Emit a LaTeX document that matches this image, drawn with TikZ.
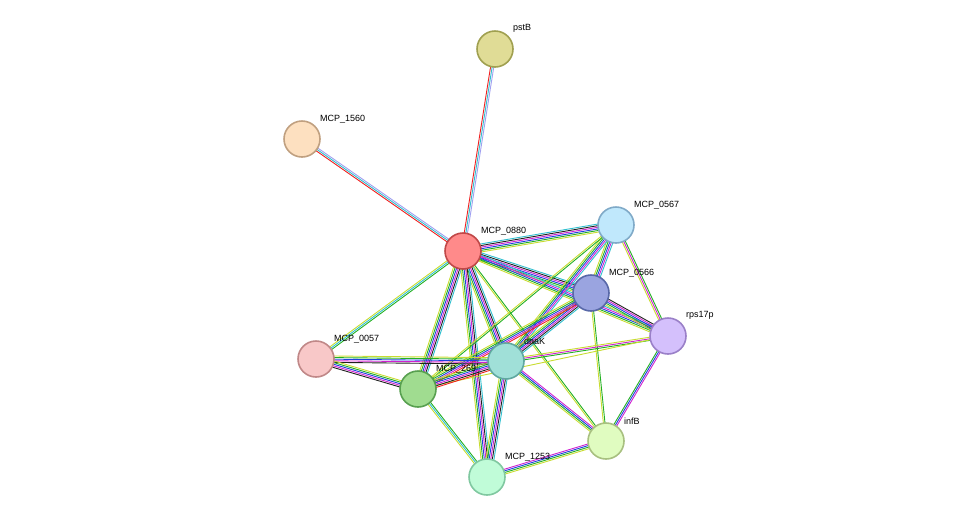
\documentclass[tikz,border=0pt]{standalone}
\usepackage{fontspec}
\setmainfont{Liberation Sans}
\usetikzlibrary{calc}
\definecolor{cNb}{HTML}{22B022}
\definecolor{cFu}{HTML}{F02020}
\definecolor{cCo}{HTML}{2040E0}
\definecolor{cEx}{HTML}{D020D0}
\definecolor{cDb}{HTML}{30C0D0}
\definecolor{cTm}{HTML}{C8DC30}
\definecolor{cHo}{HTML}{A0A0F0}
\definecolor{cCx}{HTML}{202020}
\newcommand{\link}[4]{%
  \foreach \c [count=\i] in {#4} {
    \pgfmathsetmacro{\off}{(\i-(#3+1)/2)*1.6}
    \draw[\c, line width=0.9pt]
      ($(#1)!\off pt!90:(#2)$) -- ($(#2)!\off pt!-90:(#1)$);
  }}
\tikzset{
  prot/.style args={#1/#2}{circle, minimum size=36pt, inner sep=0pt,
    fill=#1, draw=#2, line width=1.6pt},
  lbl/.style={font=\fontsize{9}{10}\selectfont, anchor=south west, inner sep=1pt}
}
\definecolor{fA}{HTML}{E0DC96}\definecolor{dA}{HTML}{A0A050}
\definecolor{fB}{HTML}{FDE0C0}\definecolor{dB}{HTML}{C0A080}
\definecolor{fC}{HTML}{FF8A8A}\definecolor{dC}{HTML}{C04848}
\definecolor{fD}{HTML}{C0E8FC}\definecolor{dD}{HTML}{80AAC8}
\definecolor{fE}{HTML}{9AA4E0}\definecolor{dE}{HTML}{5868A8}
\definecolor{fF}{HTML}{D4C0FC}\definecolor{dF}{HTML}{9A80C8}
\definecolor{fG}{HTML}{F8C8C8}\definecolor{dG}{HTML}{C08888}
\definecolor{fH}{HTML}{A0E0D8}\definecolor{dH}{HTML}{60A8A0}
\definecolor{fI}{HTML}{A0DC90}\definecolor{dI}{HTML}{58A050}
\definecolor{fJ}{HTML}{E0FCC0}\definecolor{dJ}{HTML}{A8C080}
\definecolor{fK}{HTML}{C0FCD8}\definecolor{dK}{HTML}{80C8A0}
\begin{document}
\begin{tikzpicture}[x=1pt,y=-1pt]
  \useasboundingbox (0,0) rectangle (976,523);
  % protein positions
  \coordinate (pstB) at (495,49);
  \coordinate (m1560) at (302,139);
  \coordinate (m0880) at (463,251);
  \coordinate (m0567) at (616,225);
  \coordinate (m0566) at (591,293);
  \coordinate (rps) at (668,336);
  \coordinate (m0057) at (316,359);
  \coordinate (dnaK) at (506,361);
  \coordinate (m269) at (418,389);
  \coordinate (infB) at (606,441);
  \coordinate (m1253) at (487,477);

  % evidence links
  \link{m0880}{pstB}{3}{cHo,cDb,cFu}
  \link{m0880}{m1560}{3}{cHo,cDb,cFu}
  \link{m0880}{m0567}{6}{cTm,cNb,cCo,cEx,cCx,cDb}
  \link{m0880}{m0566}{6}{cTm,cNb,cCo,cEx,cCx,cDb}
  \link{m0880}{rps}{5}{cTm,cNb,cCo,cEx,cDb}
  \link{m0880}{dnaK}{6}{cTm,cNb,cCo,cEx,cCx,cDb}
  \link{m0880}{m269}{6}{cTm,cNb,cCo,cEx,cCx,cDb}
  \link{m0880}{m1253}{6}{cTm,cNb,cCo,cEx,cCx,cDb}
  \link{m0880}{infB}{2}{cTm,cNb}
  \link{m0880}{m0057}{3}{cTm,cDb,cNb}
  \link{m0567}{m0566}{5}{cTm,cNb,cCo,cEx,cDb}
  \link{m0567}{rps}{3}{cTm,cEx,cNb}
  \link{m0567}{dnaK}{5}{cTm,cNb,cCo,cEx,cDb}
  \link{m0567}{m269}{2}{cTm,cNb}
  \link{m0566}{rps}{5}{cTm,cNb,cCo,cEx,cCx}
  \link{m0566}{dnaK}{6}{cTm,cNb,cCo,cEx,cCx,cDb}
  \link{m0566}{m269}{5}{cTm,cNb,cCo,cEx,cFu}
  \link{m0566}{infB}{2}{cTm,cNb}
  \link{rps}{dnaK}{3}{cTm,cEx,cNb}
  \link{rps}{infB}{3}{cNb,cCo,cEx}
  \link{rps}{m269}{1}{cTm}
  \link{dnaK}{m269}{6}{cTm,cNb,cCo,cEx,cCx,cFu}
  \link{dnaK}{m0057}{5}{cTm,cNb,cCo,cEx,cCx}
  \link{dnaK}{m1253}{6}{cTm,cNb,cCo,cEx,cCx,cDb}
  \link{dnaK}{infB}{4}{cTm,cNb,cCo,cEx}
  \link{m269}{m0057}{5}{cTm,cNb,cCo,cEx,cCx}
  \link{m269}{m1253}{3}{cTm,cDb,cNb}
  \link{m1253}{infB}{4}{cTm,cNb,cCo,cEx}

  % proteins
  \node[prot={fA/dA}] (nPstB) at (pstB) {};
  \node[prot={fB/dB}] (n1560) at (m1560) {};
  \node[prot={fC/dC}] (n0880) at (m0880) {};
  \node[prot={fD/dD}] (n0567) at (m0567) {};
  \node[prot={fE/dE}] (n0566) at (m0566) {};
  \node[prot={fF/dF}] (nRps) at (rps) {};
  \node[prot={fG/dG}] (n0057) at (m0057) {};
  \node[prot={fH/dH}] (nDnaK) at (dnaK) {};
  \node[prot={fI/dI}] (n269) at (m269) {};
  \node[prot={fJ/dJ}] (nInfB) at (infB) {};
  \node[prot={fK/dK}] (n1253) at (m1253) {};

  % labels
  \node[lbl] at (512,34) {pstB};
  \node[lbl] at (319,124) {MCP\_1560};
  \node[lbl] at (480,236) {MCP\_0880};
  \node[lbl] at (633,210) {MCP\_0567};
  \node[lbl] at (608,278) {MCP\_0566};
  \node[lbl] at (685,321) {rps17p};
  \node[lbl] at (333,344) {MCP\_0057};
  \node[lbl] at (523,346) {dnaK};
  \node[lbl] at (435,374) {MCP\_269};
  \node[lbl] at (623,426) {infB};
  \node[lbl] at (504,462) {MCP\_1253};
\end{tikzpicture}
\end{document}
